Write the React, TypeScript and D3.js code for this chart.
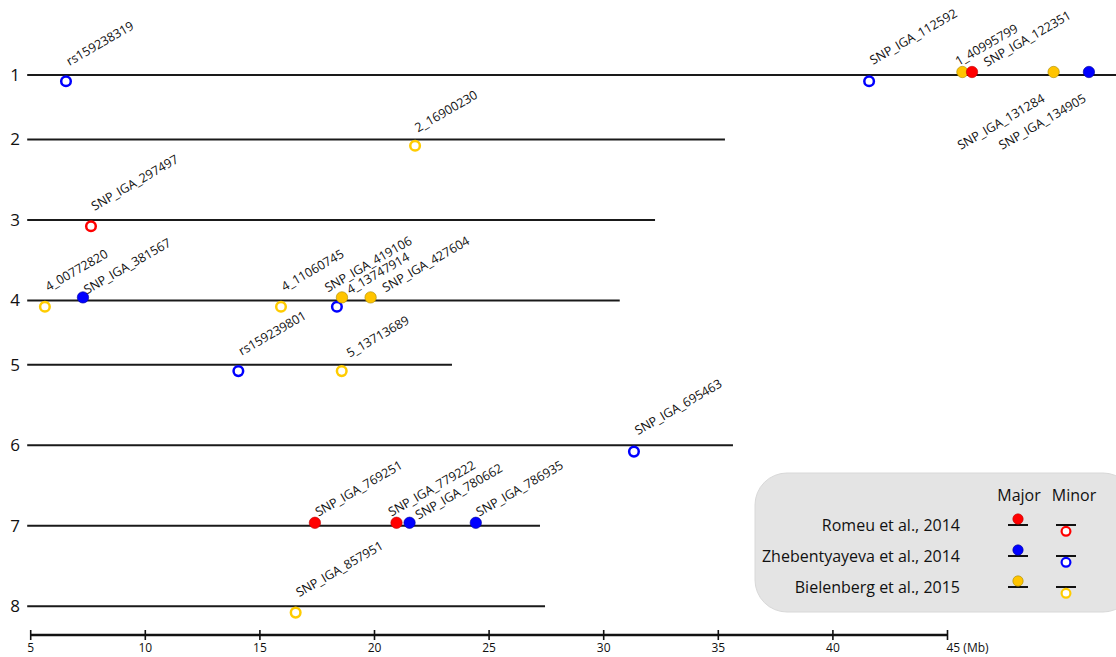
import React from "react";
import * as d3 from "d3";

// ---------- data ----------
const chromosomes = ["1", "2", "3", "4", "5", "6", "7", "8"];
// vertical slot of each chromosome track (figure spacing is irregular)
const chromosomeSlots = [0, 0.8, 1.8, 2.8, 3.6, 4.6, 5.6, 6.6];
// chromosome end, in axis units (Mb, axis starts at 5)
const chromosomeEnds = [52.8, 35.29, 32.24, 30.7, 23.38, 35.64, 27.22, 27.44];
const axisStart = 5;
const axisTicks = [5, 10, 15, 20, 25, 30, 35, 40, 45];
const axisUnit = "(Mb)";

const studies = ["Romeu et al., 2014", "Zhebentyayeva et al., 2014", "Bielenberg et al., 2015"];
const effects = ["Major", "Minor"];

const markerNames = [
  "rs159238319", "SNP_IGA_112592", "1_40995799", "SNP_IGA_122351", "SNP_IGA_131284", "SNP_IGA_134905",
  "2_16900230",
  "SNP_IGA_297497",
  "4_00772820", "SNP_IGA_381567", "4_11060745", "SNP_IGA_419106", "4_13747914", "SNP_IGA_427604",
  "rs159239801", "5_13713689",
  "SNP_IGA_695463",
  "SNP_IGA_769251", "SNP_IGA_779222", "SNP_IGA_780662", "SNP_IGA_786935",
  "SNP_IGA_857951",
];
const markerChromosome = [
  "1", "1", "1", "1", "1", "1",
  "2",
  "3",
  "4", "4", "4", "4", "4", "4",
  "5", "5",
  "6",
  "7", "7", "7", "7",
  "8",
];
const markerPositions = [
  6.54, 41.58, 45.65, 46.07, 49.63, 51.17,
  21.77,
  7.63,
  5.62, 7.28, 15.92, 18.36, 18.58, 19.83,
  14.06, 18.57,
  31.32,
  17.4, 20.96, 21.53, 24.42,
  16.56,
];
// 0 = Romeu, 1 = Zhebentyayeva, 2 = Bielenberg
const markerStudy = [
  1, 1, 2, 0, 2, 1,
  2,
  0,
  2, 1, 2, 1, 2, 2,
  1, 2,
  1,
  0, 0, 1, 1,
  2,
];
const markerEffect = [
  "Minor", "Minor", "Major", "Major", "Major", "Major",
  "Minor",
  "Minor",
  "Minor", "Major", "Minor", "Minor", "Major", "Major",
  "Minor", "Minor",
  "Minor",
  "Major", "Major", "Major", "Major",
  "Minor",
];

// ---------- styling ----------
const W = 1116;
const H = 657;
const fillColors = ["#ff0000", "#0000ff", "#ffc400"];
const strokeColors = ["#ff0000", "#0000ff", "#ffcc00"];
const dotOutline = ["#c00000", "#000099", "#a88a00"];
const labelFont = "'Open Sans', 'Noto Sans', sans-serif";
const labelSize = 12.5;

// label nudges (dx, dy relative to marker x / chromosome line), and labels drawn below
const labelNudge: Record<string, [number, number]> = {
  "SNP_IGA_112592": [4, -10],
  "1_40995799": [-4, -9],
  "SNP_IGA_122351": [15, -8],
  "2_16900230": [3, -7],
  "SNP_IGA_381567": [4, -6],
  "SNP_IGA_419106": [-9, -8],
  "4_13747914": [8, -6],
  "SNP_IGA_427604": [15, -8],
  "5_13713689": [8, -7],
  "SNP_IGA_695463": [4, -10],
  "SNP_IGA_779222": [-5, -9],
  "SNP_IGA_780662": [9, -6],
};
const belowNudge: Record<string, [number, number]> = {
  "SNP_IGA_131284": [-8, 26],
  "SNP_IGA_134905": [-2, 26],
};

export default function App() {
  const x = d3.scaleLinear().domain([5, 45]).range([30.7, 947.5]);
  const y = d3.scaleLinear().domain([0, 1]).range([75, 155.5]);
  const chrY = (c: string) => y(chromosomeSlots[chromosomes.indexOf(c)]);
  const axisY = 635;

  const legendX = 755;
  const legendY = 473;
  const rowY = d3.scalePoint<string>().domain(studies).range([525, 587]);
  const colX = d3.scalePoint<string>().domain(effects).range([1018, 1066]);
  const headerX = d3.scalePoint<string>().domain(effects).range([1019, 1074]);

  return (
    <svg
      width={W}
      height={H}
      style={{ position: "absolute", left: 0, top: 0, background: "#fff" }}
      fontFamily={labelFont}
    >
      {/* chromosome tracks */}
      {chromosomes.map((c, i) => {
        const yy = chrY(c);
        return (
          <g key={c}>
            <text x={15} y={yy + 6} fontSize={17} textAnchor="middle" fill="#111">
              {c}
            </text>
            <line
              x1={x(axisStart) - 3.5}
              x2={x(chromosomeEnds[i])}
              y1={yy}
              y2={yy}
              stroke="#1a1a1a"
              strokeWidth={2}
            />
          </g>
        );
      })}

      {/* markers */}
      {markerNames.map((name, i) => {
        const px = x(markerPositions[i]);
        const ly = chrY(markerChromosome[i]);
        const s = markerStudy[i];
        const major = markerEffect[i] === "Major";
        return (
          <g key={name}>
            {major ? (
              <circle cx={px} cy={ly - 3} r={5.7} fill={fillColors[s]} stroke={dotOutline[s]} strokeWidth={0.6} />
            ) : (
              <circle cx={px} cy={ly + 6.3} r={4.8} fill="#fff" stroke={strokeColors[s]} strokeWidth={2.5} />
            )}
          </g>
        );
      })}

      {/* marker labels */}
      {markerNames.map((name, i) => {
        const px = x(markerPositions[i]);
        const ly = chrY(markerChromosome[i]);
        if (belowNudge[name]) {
          const [dx, dy] = belowNudge[name];
          return (
            <text
              key={name}
              transform={`translate(${px + dx},${ly + dy}) rotate(-30)`}
              fontSize={labelSize}
              textAnchor="end"
              fill="#111"
            >
              {name}
            </text>
          );
        }
        const [dx, dy] = labelNudge[name] || [3.5, -9];
        return (
          <text
            key={name}
            transform={`translate(${px + dx},${ly + dy}) rotate(-30)`}
            fontSize={labelSize}
            fill="#111"
          >
            {name}
          </text>
        );
      })}

      {/* axis */}
      <line x1={x(5)} x2={x(45)} y1={axisY} y2={axisY} stroke="#111" strokeWidth={2.5} />
      {axisTicks.map((t, i) => (
        <g key={t}>
          <line x1={x(t)} x2={x(t)} y1={axisY - 5} y2={axisY + 5} stroke="#111" strokeWidth={1.6} />
          {i < axisTicks.length - 1 ? (
            <text x={x(t)} y={axisY + 17} fontSize={12} textAnchor="middle" fill="#111">
              {t}
            </text>
          ) : (
            <text x={x(t) - 1} y={axisY + 17} fontSize={12} fill="#111">
              {`${t} ${axisUnit}`}
            </text>
          )}
        </g>
      ))}

      {/* legend */}
      <rect x={legendX} y={legendY} width={380} height={139} rx={32} ry={32} fill="#e4e4e4" stroke="#d8d8d8" strokeWidth={1} />
      {effects.map((e) => (
        <text key={e} x={headerX(e)} y={501} fontSize={16} textAnchor="middle" fill="#111">
          {e}
        </text>
      ))}
      {studies.map((st, i) => {
        const ry = rowY(st) as number;
        const mx = colX("Major") as number;
        const nx = colX("Minor") as number;
        return (
          <g key={st}>
            <text x={960} y={ry + 5.5} fontSize={16} textAnchor="end" fill="#111">
              {st}
            </text>
            <line x1={mx - 10} x2={mx + 10} y1={ry} y2={ry} stroke="#111" strokeWidth={2} />
            <circle cx={mx} cy={ry - 6} r={5.2} fill={fillColors[i]} stroke={dotOutline[i]} strokeWidth={0.6} />
            <line x1={nx - 10} x2={nx + 10} y1={ry} y2={ry} stroke="#111" strokeWidth={2} />
            <circle cx={nx} cy={ry + 6.3} r={4.4} fill="#fff" stroke={strokeColors[i]} strokeWidth={2.2} />
          </g>
        );
      })}
    </svg>
  );
}
